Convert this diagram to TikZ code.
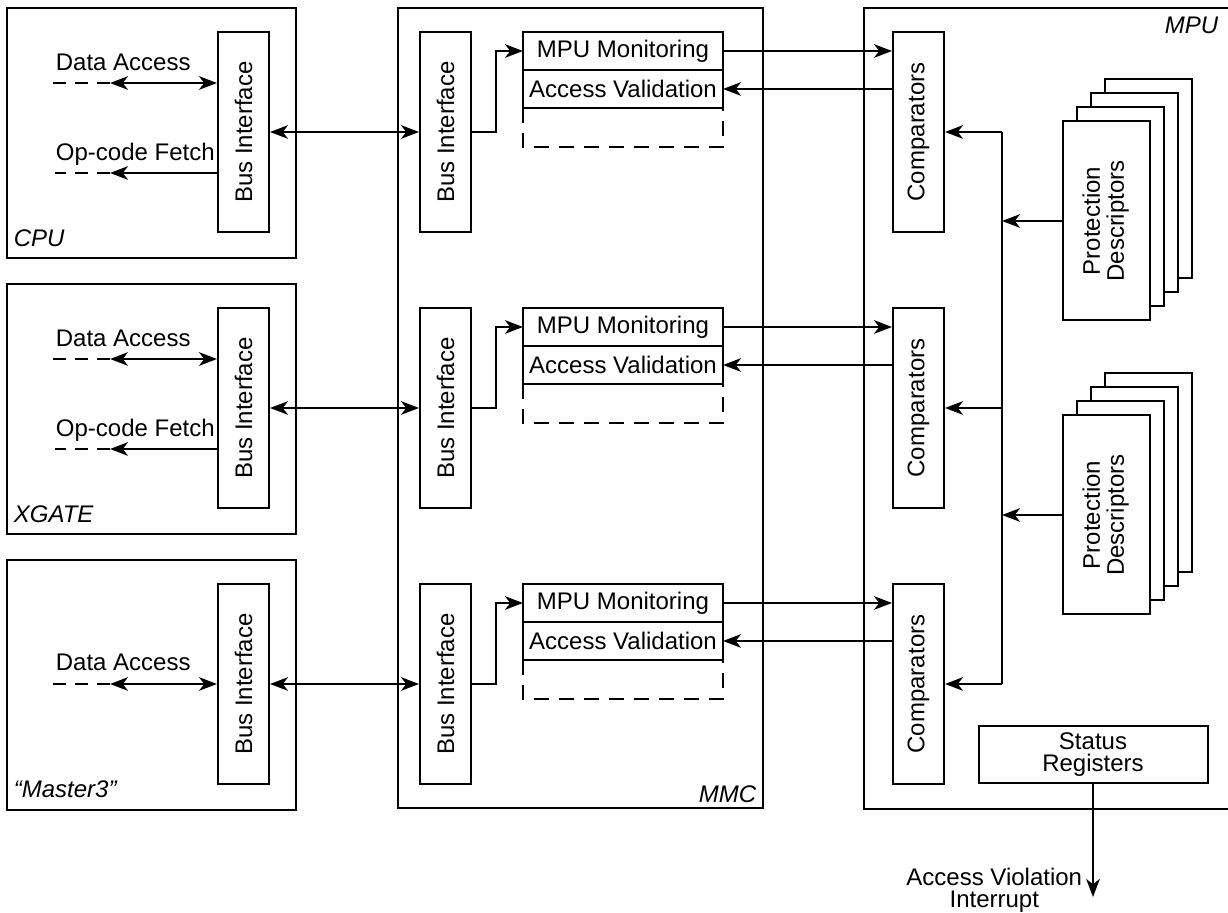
\documentclass[tikz,border=0pt]{standalone}
\usepackage{fontspec}
\setmainfont{Liberation Sans}
\usetikzlibrary{arrows.meta}

\begin{document}
\begin{tikzpicture}[x=0.5pt, y=-0.5pt, >={Stealth[length=9pt, width=6.8pt, inset=2.6pt]},
  line width=0.9pt, font=\fontsize{12}{11}\selectfont,
  unitbox/.style={draw, line width=1pt, minimum width=144.5pt, minimum height=125pt, inner sep=0pt},
  busbox/.style={draw, line width=1pt, minimum width=25.5pt, minimum height=100pt, inner sep=0pt},
  regbox/.style={draw, line width=1pt, minimum width=100pt, minimum height=19pt, inner sep=0pt, outer sep=0pt},
  descbox/.style={draw, line width=1pt, fill=white, minimum width=43.5pt, minimum height=99.5pt, inner sep=0pt},
  tag/.style={font=\fontsize{12}{11}\selectfont\itshape, inner sep=0pt},
  sig/.style={anchor=base west, inner sep=0pt},
  dashes/.style={dash pattern=on 6.5pt off 4.5pt},
  spare/.style={dash pattern=on 7.5pt off 5pt}]
  \useasboundingbox (0,0) rectangle (1228,913);

  % Masters
  \node[unitbox] (cpu) at (151.5,133) {};
  \node[tag, anchor=base west] (cpulbl) at (13,247) {CPU};
  \node[busbox] (cpubus) at (243.5,132) {\rotatebox{90}{Bus Interface}};
  \node[sig] (cpudata) at (55,71) {Data Access};
  \node[sig] (cpufetch) at (55,161) {Op-code Fetch};
  \coordinate (cpuda) at (110,83);
  \coordinate (cpuof) at (110,173);
  \draw[dashes] (cpuda) -- ++(-58,0);
  \draw[<->] (cpuda) -- (cpuda -| cpubus.west);
  \draw[dashes] (cpuof) -- ++(-55,0);
  \draw[->] (cpuof -| cpubus.west) -- (cpuof);

  \node[unitbox] (xgate) at (151.5,409) {};
  \node[tag, anchor=base west] (xgatelbl) at (13,523) {XGATE};
  \node[busbox] (xgatebus) at (243.5,408) {\rotatebox{90}{Bus Interface}};
  \node[sig] (xgatedata) at (55,347) {Data Access};
  \node[sig] (xgatefetch) at (55,437) {Op-code Fetch};
  \coordinate (xgateda) at (110,359);
  \coordinate (xgateof) at (110,449);
  \draw[dashes] (xgateda) -- ++(-58,0);
  \draw[<->] (xgateda) -- (xgateda -| xgatebus.west);
  \draw[dashes] (xgateof) -- ++(-55,0);
  \draw[->] (xgateof -| xgatebus.west) -- (xgateof);

  \node[unitbox] (mthree) at (151.5,685) {};
  \node[tag, anchor=base west] (mthreelbl) at (13,798) {“Master3”};
  \node[busbox] (mthreebus) at (243.5,684) {\rotatebox{90}{Bus Interface}};
  \node[sig] (mthreedata) at (55,671) {Data Access};
  \coordinate (mthreeda) at (110,684);
  \draw[dashes] (mthreeda) -- ++(-58,0);
  \draw[<->] (mthreeda) -- (mthreeda -| mthreebus.west);

  % MMC
  \node[draw, line width=1pt, minimum width=182.5pt, minimum height=400pt, inner sep=0pt] (mmc) at (580.5,408) {};
  \node[tag, anchor=base east] (mmclbl) at (757,803) {MMC};
  \node[busbox] (mmcbusA) at (445.5,132) {\rotatebox{90}{Bus Interface}};
  \node[busbox] (mmcbusB) at (445.5,408) {\rotatebox{90}{Bus Interface}};
  \node[busbox] (mmcbusC) at (445.5,684) {\rotatebox{90}{Bus Interface}};
  \node[regbox] (monA) at (623,51) {MPU Monitoring};
  \node[regbox, anchor=north] (valA) at (monA.south) {Access Validation};
  \node[regbox] (monB) at (623,327) {MPU Monitoring};
  \node[regbox, anchor=north] (valB) at (monB.south) {Access Validation};
  \node[regbox] (monC) at (623,603) {MPU Monitoring};
  \node[regbox, anchor=north] (valC) at (monC.south) {Access Validation};
  \draw[spare] (valA.south west) -- ++(0,39) -| (valA.south east);
  \draw[spare] (valB.south west) -- ++(0,39) -| (valB.south east);
  \draw[spare] (valC.south west) -- ++(0,39) -| (valC.south east);

  \draw[<->] (cpubus.east) -- (mmcbusA.west);
  \draw[<->] (xgatebus.east) -- (mmcbusB.west);
  \draw[<->] (mthreebus.east) -- (mmcbusC.west);
  \draw[->] (mmcbusA.east) -- ++(24,0) |- (monA.west);
  \draw[->] (mmcbusB.east) -- ++(24,0) |- (monB.west);
  \draw[->] (mmcbusC.east) -- ++(24,0) |- (monC.west);

  % MPU
  \draw[line width=1pt] (1229,8) -| (864,809) -- (1229,809);
  \node[tag, anchor=base east] (mpulbl) at (1219,34) {MPU};
  \node[busbox] (cmpA) at (918.5,132) {\rotatebox{90}{Comparators}};
  \node[busbox] (cmpB) at (918.5,408) {\rotatebox{90}{Comparators}};
  \node[busbox] (cmpC) at (918.5,684) {\rotatebox{90}{Comparators}};
  \draw[->] (monA.east) -- (monA.east -| cmpA.west);
  \draw[->] (valA.east -| cmpA.west) -- (valA.east);
  \draw[->] (monB.east) -- (monB.east -| cmpB.west);
  \draw[->] (valB.east -| cmpB.west) -- (valB.east);
  \draw[->] (monC.east) -- (monC.east -| cmpC.west);
  \draw[->] (valC.east -| cmpC.west) -- (valC.east);

  % Protection descriptors
  \node[descbox] (descA3) at (1148.5,179) {};
  \node[descbox] (descA2) at (1134.5,193) {};
  \node[descbox] (descA1) at (1120.5,207) {};
  \node[descbox] (descA) at (1106.5,221) {\rotatebox{90}{\begin{tabular}{@{}c@{}}Protection\\Descriptors\end{tabular}}};
  \node[descbox] (descB3) at (1148.5,473) {};
  \node[descbox] (descB2) at (1134.5,487) {};
  \node[descbox] (descB1) at (1120.5,501) {};
  \node[descbox] (descB) at (1106.5,515) {\rotatebox{90}{\begin{tabular}{@{}c@{}}Protection\\Descriptors\end{tabular}}};

  \coordinate (bustop) at (1002,132);
  \coordinate (busbot) at (1002,684);
  \draw (bustop) -- (busbot);
  \draw[->] (bustop) -- (cmpA.east);
  \draw[->] (bustop |- cmpB.east) -- (cmpB.east);
  \draw[->] (busbot) -- (cmpC.east);
  \draw[->] (descA.west) -- (descA.west -| bustop);
  \draw[->] (descB.west) -- (descB.west -| bustop);

  % Status
  \node[draw, line width=1pt, minimum width=114.5pt, minimum height=28.5pt, inner sep=0pt, align=center] (status) at (1093,754.5) {Status\\Registers};
  \coordinate (irq) at (1093,897);
  \draw[->] (status.south) -- (irq);
  \node[anchor=east, align=center, inner sep=0pt] (irqlbl) at (1083,890) {Access Violation\\Interrupt};
\end{tikzpicture}
\end{document}
